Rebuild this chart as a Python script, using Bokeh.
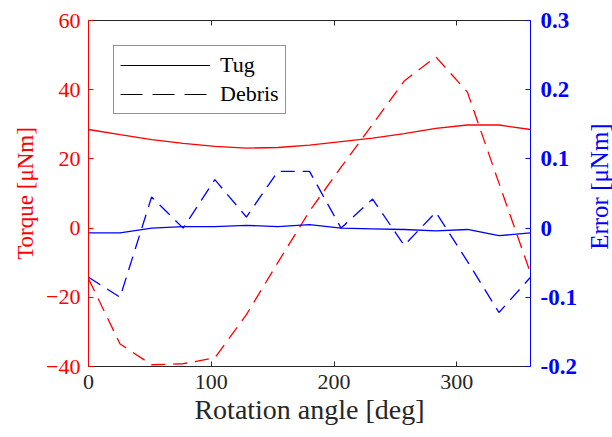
import math
from bokeh.plotting import figure
from bokeh.layouts import row
from bokeh.models import Range1d, LinearAxis, FixedTicker, Legend, LegendItem, CustomLabelingPolicy, Label
from bokeh.embed import file_html
from bokeh.resources import INLINE

# data
angle = [0, 25.7, 51.4, 77.1, 102.9, 128.6, 154.3, 180, 205.7, 231.4, 257.1, 282.9, 308.6, 334.3, 360]
torque_tug = [28.5, 27.0, 25.6, 24.5, 23.6, 23.1, 23.3, 24.0, 25.0, 26.0, 27.3, 28.8, 29.8, 29.8, 28.5]
torque_debris = [-14.6, -33.5, -39.5, -39.2, -37.5, -25.0, -9.9, 4.9, 17.6, 30.0, 42.5, 49.5, 39.3, 13.0, -13.0]
error_tug = [-0.007, -0.007, 0.0, 0.002, 0.002, 0.004, 0.002, 0.005, 0.0, -0.001, -0.002, -0.004, -0.002, -0.011, -0.007]
error_debris = [-0.071, -0.100, 0.045, 0.000, 0.070, 0.016, 0.082, 0.082, 0.000, 0.042, -0.025, 0.023, -0.048, -0.122, -0.071]

x_ticks = [0, 100, 200, 300]
left_ticks = [-40, -20, 0, 20, 40, 60]
right_ticks = [-0.2, -0.1, 0, 0.1, 0.2, 0.3]
right_labels = ["-0.2", "-0.1", "0", "0.1", "0.2", "0.3"]
x_title = "Rotation angle [deg]"
left_title = "Torque [μNm]"
right_title = "Error [μNm]"

RED = "#ff0000"
BLUE = "#0000ff"
GRAY = "#262626"
FONT = "Liberation Serif"

p = figure(width=582, height=437, output_backend="svg", toolbar_location=None,
           x_range=Range1d(0, 360), y_range=Range1d(-40, 60),
           min_border_left=88, min_border_right=52, min_border_top=20, min_border_bottom=71)
p.extra_y_ranges = {"err": Range1d(-0.2, 0.3)}
p.grid.visible = False
p.outline_line_color = None
p.background_fill_color = "white"

def style(ax, color):
    ax.axis_line_color = color
    ax.axis_line_width = 1
    ax.major_tick_line_color = color
    ax.major_tick_in = 5
    ax.major_tick_out = 0
    ax.minor_tick_line_color = None
    ax.major_label_text_color = color
    ax.major_label_text_font = FONT
    ax.major_label_text_font_size = "22px"
    ax.axis_label_text_font = FONT
    ax.axis_label_text_font_size = "24px"
    ax.axis_label_text_font_style = "normal"
    ax.axis_label_text_color = color

xa = p.xaxis[0]
xa.ticker = FixedTicker(ticks=x_ticks)
style(xa, GRAY)
xa.axis_label = x_title
xa.axis_label_text_font_size = "28px"
xa.major_label_standoff = 8
xa.axis_label_standoff = 2

ya = p.yaxis[0]
ya.ticker = FixedTicker(ticks=left_ticks)
style(ya, RED)
ya.axis_label = left_title
ya.axis_label_text_font_size = "23px"
ya.major_label_standoff = 8

ra = LinearAxis(y_range_name="err", ticker=FixedTicker(ticks=right_ticks))
style(ra, BLUE)
ra.major_label_text_font_style = "bold"
ra.major_label_text_font_size = "23px"
ra.major_label_overrides = {t: s for t, s in zip(right_ticks, right_labels)}
ra.major_label_standoff = 10
p.add_layout(ra, "right")

ta = LinearAxis(ticker=FixedTicker(ticks=x_ticks))
style(ta, GRAY)
ta.major_label_policy = CustomLabelingPolicy(code="""
for (const i of indices)
    indices.unset(i)
""")
ta.major_label_standoff = 0
p.add_layout(ta, "above")

lw = 1.3
dash = "14 8"
p.line(angle, torque_tug, line_color=RED, line_width=lw)
p.line(angle, torque_debris, line_color=RED, line_width=lw, line_dash=dash)
p.line(angle, error_tug, line_color=BLUE, line_width=lw, y_range_name="err")
p.line(angle, error_debris, line_color=BLUE, line_width=lw, line_dash=dash, y_range_name="err")

# legend proxies (black, not drawn in the plot area)
nan = float("nan")
g1 = p.line([nan], [nan], line_color="black", line_width=1.2)
g2 = p.line([nan], [nan], line_color="black", line_width=1.2, line_dash="22 10")
leg = Legend(items=[LegendItem(label="Tug", renderers=[g1]), LegendItem(label="Debris", renderers=[g2])],
             location="top_left", margin=25)
leg.label_text_font = FONT
leg.label_text_font_size = "22px"
leg.label_text_color = "black"
leg.glyph_width = 90
leg.glyph_height = 20
leg.label_height = 20
leg.spacing = 3
leg.padding = 6
leg.label_standoff = 10
leg.border_line_color = GRAY
leg.border_line_width = 1
leg.background_fill_alpha = 1
p.add_layout(leg, "center")

# narrow strip holding the right axis title (reads bottom-to-top, as in the reference)
side = figure(width=30, height=437, output_backend="svg", toolbar_location=None,
              x_range=Range1d(0, 1), y_range=Range1d(0, 1),
              x_axis_location=None, y_axis_location=None,
              min_border=0, min_border_left=0, min_border_right=0, min_border_top=0, min_border_bottom=0)
side.grid.visible = False
side.outline_line_color = None
side.add_layout(Label(x=0.55, y=0.52, text=right_title, angle=math.pi / 2,
                      text_align="center", text_baseline="middle", text_color=BLUE,
                      text_font=FONT, text_font_size="25px"))

layout = row(p, side, spacing=0)
open("out.html", "w").write(file_html(layout, INLINE))
